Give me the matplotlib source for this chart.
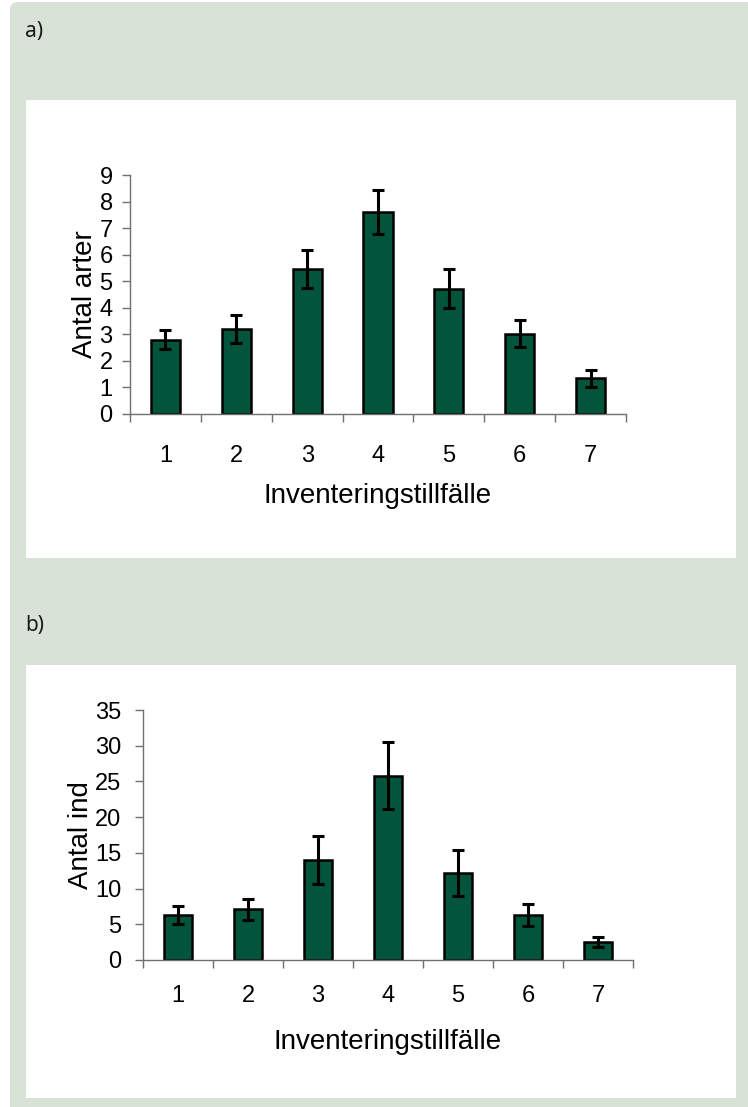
import matplotlib
matplotlib.use("Agg")
import matplotlib.pyplot as plt
from matplotlib.patches import FancyBboxPatch, Rectangle
import numpy as np

# Survey occasions and means with error margins
occasions = [1, 2, 3, 4, 5, 6, 7]
species_mean = [2.8, 3.2, 5.47, 7.59, 4.72, 3.02, 1.34]
species_err = [0.37, 0.52, 0.72, 0.83, 0.74, 0.51, 0.31]
indiv_mean = [6.3, 7.1, 14.0, 25.8, 12.2, 6.3, 2.5]
indiv_err = [1.26, 1.5, 3.36, 4.7, 3.27, 1.55, 0.7]

W, H = 748, 1107
DPI = 100
fig = plt.figure(figsize=(W / DPI, H / DPI), dpi=DPI, facecolor="white")

GREEN_BG = "#D9E2D7"
BAR = "#02543A"
AXC = "#707070"
FONT = "Liberation Sans"


def px_rect(x0, y0, x1, y1):
    """Convert pixel box (top-left origin) to figure fraction [l, b, w, h]."""
    return [x0 / W, 1 - y1 / H, (x1 - x0) / W, (y1 - y0) / H]


# Background panels
bg = fig.add_axes([0, 0, 1, 1])
bg.set_xlim(0, W)
bg.set_ylim(H, 0)
bg.axis("off")
bg.add_patch(FancyBboxPatch((10, 2), W + 40, H + 40,
                            boxstyle="round,pad=0,rounding_size=8",
                            facecolor=GREEN_BG, edgecolor="none"))
bg.add_patch(Rectangle((26, 100), 710, 458, facecolor="white", edgecolor="none"))
bg.add_patch(Rectangle((26, 665), 710, 433, facecolor="white", edgecolor="none"))
bg.text(25, 31, "a)", fontsize=15, family="Noto Sans", va="center", ha="left",
        color="#1a1a1a")
bg.text(25, 625, "b)", fontsize=15, family="Noto Sans", va="center", ha="left",
        color="#1a1a1a")


def draw_panel(rect, means, errs, ymax, ystep, ylabel, ytick_pad, xtick_pad,
               xlabel_pad):
    ax = fig.add_axes(rect)
    ax.set_facecolor("none")
    x = np.array(occasions)
    ax.bar(x, means, width=0.41, color=BAR, edgecolor="black", linewidth=1.8,
           zorder=2)
    ax.errorbar(x, means, yerr=errs, fmt="none", ecolor="black", elinewidth=2.2,
                capsize=4.5, capthick=2.2, zorder=3)
    ax.set_xlim(0.5, len(occasions) + 0.5)
    ax.set_ylim(0, ymax)
    for s in ["top", "right"]:
        ax.spines[s].set_visible(False)
    for s in ["left", "bottom"]:
        ax.spines[s].set_color(AXC)
        ax.spines[s].set_linewidth(1.0)
    ax.set_yticks(np.arange(0, ymax + 0.001, ystep))
    ax.tick_params(axis="y", direction="out", length=5.5, width=1.0,
                   color=AXC, labelsize=17, pad=ytick_pad)
    # Boundary ticks on x, labels at category centres
    ax.set_xticks(np.arange(0.5, len(occasions) + 1, 1.0))
    ax.set_xticklabels([])
    ax.set_xticks(x, minor=True)
    ax.set_xticklabels([str(v) for v in occasions], minor=True)
    ax.tick_params(axis="x", which="major", direction="out", length=5.5,
                   width=1.0, color=AXC)
    ax.tick_params(axis="x", which="minor", length=0, labelsize=17,
                   pad=xtick_pad)
    for lab in ax.get_xticklabels(minor=True) + ax.get_yticklabels():
        lab.set_family(FONT)
    ax.set_ylabel(ylabel, fontsize=20, family=FONT, labelpad=1)
    ax.set_xlabel("Inventeringstillfälle", fontsize=20, family=FONT,
                  labelpad=xlabel_pad)
    return ax


draw_panel(px_rect(130, 175, 626, 414), species_mean, species_err, 9, 1,
           "Antal arter", 7, 22, 12)
draw_panel(px_rect(143, 710, 633, 960), indiv_mean, indiv_err, 35, 5,
           "Antal ind", 10, 18, 16)

fig.savefig("out.png", dpi=DPI, facecolor="white")
